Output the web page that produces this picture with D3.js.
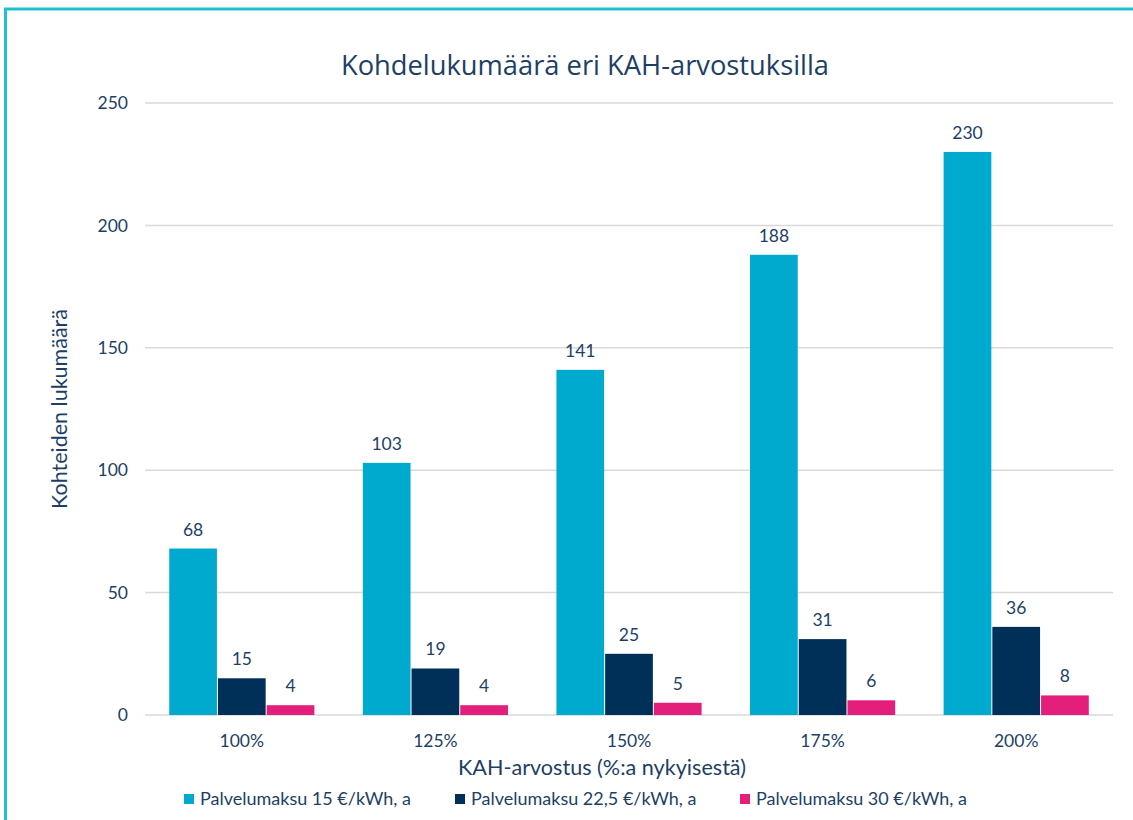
<!DOCTYPE html>
<html>
<head>
<meta charset="utf-8">
<script src="https://cdn.jsdelivr.net/npm/d3@7"></script>
<style>
  body { margin: 0; background: #fff; }
  text { font-family: Lato, "Open Sans", sans-serif; fill: #1d3f66; }
</style>
</head>
<body>
<div id="chart"></div>
<script>
// categories and series
var categories = ["100%", "125%", "150%", "175%", "200%"];
var seriesNames = ["Palvelumaksu 15 €/kWh, a", "Palvelumaksu 22,5 €/kWh, a", "Palvelumaksu 30 €/kWh, a"];
var fee15 = [68, 103, 141, 188, 230];
var fee225 = [15, 19, 25, 31, 36];
var fee30 = [4, 4, 5, 6, 8];
var yTicks = [0, 50, 100, 150, 200, 250];
var colors = ["#00aacf", "#003057", "#e31e7b"];

var W = 1133, H = 820;
var margin = {top: 103, right: 20, bottom: 105, left: 145};
var width = W - margin.left - margin.right,
    height = H - margin.top - margin.bottom;

var svg = d3.select("#chart").append("svg")
    .attr("width", W)
    .attr("height", H);

// frame lines (top + left)
svg.append("line").attr("x1", 4).attr("x2", W).attr("y1", 9).attr("y2", 9)
    .attr("stroke", "#1ec0d4").attr("stroke-width", 3);
svg.append("line").attr("x1", 5.5).attr("x2", 5.5).attr("y1", 8).attr("y2", H)
    .attr("stroke", "#1ec0d4").attr("stroke-width", 3);

var g = svg.append("g")
    .attr("transform", "translate(" + margin.left + "," + margin.top + ")");

var x0 = d3.scaleBand().domain(categories).range([0, width])
    .paddingInner(0.245).paddingOuter(0.1225);
var x1 = d3.scaleBand().domain(d3.range(seriesNames.length)).range([0, x0.bandwidth()]);
var y = d3.scaleLinear().domain([0, 250]).range([height, 0]);

// gridlines
g.selectAll(".grid")
    .data(yTicks)
  .enter().append("line")
    .attr("x1", 0).attr("x2", width)
    .attr("y1", function(d) { return y(d); })
    .attr("y2", function(d) { return y(d); })
    .attr("stroke", "#d9d9d9").attr("stroke-width", 1.5);

// y axis labels
var yAxis = g.append("g")
    .call(d3.axisLeft(y).tickValues(yTicks).tickSize(0).tickPadding(17));
yAxis.select(".domain").remove();
yAxis.selectAll("text").style("font-size", "17.5px").attr("fill", "#1d3f66");

// x axis labels
var xAxis = g.append("g")
    .attr("transform", "translate(0," + height + ")")
    .call(d3.axisBottom(x0).tickSize(0).tickPadding(20));
xAxis.select(".domain").remove();
xAxis.selectAll("text").style("font-size", "17.5px").attr("fill", "#1d3f66");

var data = categories.map(function(c, i) {
    return {cat: c, values: [fee15[i], fee225[i], fee30[i]]};
});

var groups = g.selectAll(".grp")
    .data(data)
  .enter().append("g")
    .attr("transform", function(d) { return "translate(" + x0(d.cat) + ",0)"; });

groups.selectAll("rect")
    .data(function(d) { return d.values; })
  .enter().append("rect")
    .attr("x", function(d, i) { return x1(i) + 0.5; })
    .attr("width", x1.bandwidth() - 1)
    .attr("y", function(d) { return y(d); })
    .attr("height", function(d) { return height - y(d); })
    .attr("fill", function(d, i) { return colors[i]; });

groups.selectAll(".lbl")
    .data(function(d) { return d.values; })
  .enter().append("text")
    .attr("x", function(d, i) { return x1(i) + x1.bandwidth() / 2; })
    .attr("y", function(d) { return y(d) - 13; })
    .attr("text-anchor", "middle")
    .style("font-size", "17.5px")
    .text(function(d) { return d; });

// title
svg.append("text")
    .attr("x", 585).attr("y", 75)
    .attr("text-anchor", "middle")
    .style("font-size", "27.3px")
    .style("font-family", "'Open Sans', sans-serif")
    .attr("fill", "#123563")
    .text("Kohdelukumäärä eri KAH-arvostuksilla");

// y axis title
svg.append("text")
    .attr("transform", "translate(67," + 409 + ") rotate(-90)")
    .attr("text-anchor", "middle")
    .style("font-size", "21.5px")
    .text("Kohteiden lukumäärä");

// x axis title
svg.append("text")
    .attr("x", 602).attr("y", 775)
    .attr("text-anchor", "middle")
    .style("font-size", "21.6px")
    .text("KAH-arvostus (%:a nykyisestä)");

// legend
var legendX = [184, 455, 740];
var legend = svg.selectAll(".leg")
    .data(seriesNames)
  .enter().append("g")
    .attr("transform", function(d, i) { return "translate(" + legendX[i] + ",794)"; });
legend.append("rect")
    .attr("width", 10).attr("height", 10)
    .attr("fill", function(d, i) { return colors[i]; });
legend.append("text")
    .attr("x", 16).attr("y", 11)
    .style("font-size", "18px")
    .text(function(d) { return d; });
</script>
</body>
</html>
